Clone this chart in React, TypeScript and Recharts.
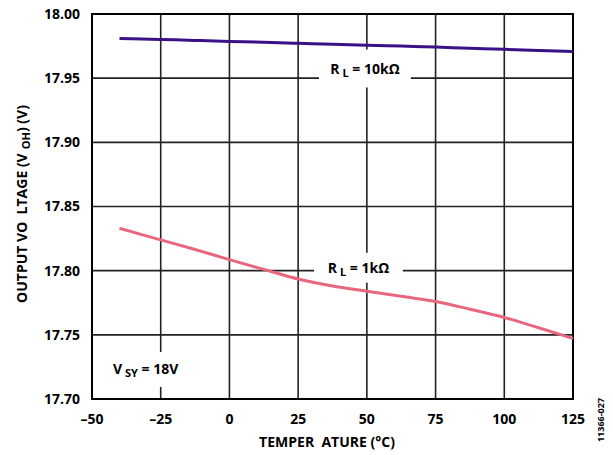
import { LineChart, Line, XAxis, YAxis, CartesianGrid, ReferenceArea } from 'recharts';

const temps = [-40, -25, -12.5, 0, 12.5, 25, 37.5, 50, 62.5, 75, 87.5, 100, 112.5, 125];
const vohRL10k = [17.981, 17.9802, 17.9794, 17.9786, 17.978, 17.9772, 17.9764, 17.9757, 17.975, 17.9742, 17.9733, 17.9725, 17.9716, 17.9707];
const vohRL1k = [17.833, 17.824, 17.8165, 17.8086, 17.801, 17.7935, 17.788, 17.784, 17.78, 17.776, 17.77, 17.7635, 17.7555, 17.7472];
const xTicks = [-50, -25, 0, 25, 50, 75, 100, 125];
const yTicks = [17.7, 17.75, 17.8, 17.85, 17.9, 17.95, 18.0];

const data = temps.map((t, i) => ({ temp: t, rl10k: vohRL10k[i], rl1k: vohRL1k[i] }));

const FONT = '"Open Sans", "DejaVu Sans", sans-serif';

function annoLabel(main: string, sub: string, rest: string) {
    return (props: any) => {
        const vb = props.viewBox || {};
        const cx = vb.x + vb.width / 2;
        const cy = vb.y + vb.height / 2 + 5;
        return (
            <text x={cx} y={cy} textAnchor="middle" fontFamily={FONT} fontWeight="bold" fontSize={14} fill="#000" style={{ whiteSpace: 'pre' }}>
                {main}
                <tspan dx={3} dy={3} fontSize={11}>{sub}</tspan>
                <tspan dy={-3}>{' ' + rest}</tspan>
            </text>
        );
    };
}

const fmtX = (v: number) => (v < 0 ? '\u2013' + Math.abs(v) : String(v));
const fmtY = (v: number) => v.toFixed(2);

export default function App() {
    return (
        <div style={{ position: 'absolute', left: 0, top: 0, width: 613, height: 455, background: '#fff' }}>
            <LineChart width={613} height={455} data={data} margin={{ top: 14, right: 40, bottom: 0, left: 32 }}>
                <CartesianGrid stroke="#222" strokeWidth={1.6} />
                <XAxis
                    dataKey="temp"
                    type="number"
                    domain={[-50, 125]}
                    ticks={xTicks}
                    tickFormatter={fmtX}
                    axisLine={false}
                    tickLine={false}
                    tickSize={0}
                    tickMargin={15}
                    height={56}
                    tick={{ fill: '#000', fontFamily: FONT, fontWeight: 'bold', fontSize: 14 }}
                />
                <YAxis
                    type="number"
                    domain={[17.7, 18.0]}
                    ticks={yTicks}
                    tickFormatter={fmtY}
                    axisLine={false}
                    tickLine={false}
                    tickSize={0}
                    tickMargin={12}
                    width={60}
                    tick={{ fill: '#000', fontFamily: FONT, fontWeight: 'bold', fontSize: 14 }}
                />
                <ReferenceArea x1={32.6} x2={66} y1={17.9427} y2={17.9723} fill="#fff" fillOpacity={1} stroke="none" label={annoLabel('R', 'L', '= 10k\u03a9')} />
                <ReferenceArea x1={30.8} x2={63.1} y1={17.7905} y2={17.814} fill="#fff" fillOpacity={1} stroke="none" label={annoLabel('R', 'L', '= 1k\u03a9')} />
                <ReferenceArea x1={-45.6} x2={-15.4} y1={17.7094} y2={17.7367} fill="#fff" fillOpacity={1} stroke="none" label={annoLabel('V', 'SY', '= 18V')} />
                <Line dataKey="rl10k" type="monotone" stroke="#3a1288" strokeWidth={3} dot={false} isAnimationActive={false} />
                <Line dataKey="rl1k" type="monotone" stroke="#e8677f" strokeWidth={3} dot={false} isAnimationActive={false} />
                <ReferenceArea x1={-50} x2={125} y1={17.7} y2={18.0} fill="none" stroke="#000" strokeWidth={2} />
            </LineChart>
            <svg width={613} height={455} style={{ position: 'absolute', left: 0, top: 0, pointerEvents: 'none' }}>
                <text x={327} y={447} textAnchor="middle" fontFamily={FONT} fontWeight="bold" fontSize={14} fill="#000" style={{ whiteSpace: 'pre' }}>
                    TEMPER  ATURE (°C)
                </text>
                <text transform="translate(27,204) rotate(-90)" textAnchor="middle" fontFamily={FONT} fontWeight="bold" fontSize={14} fill="#000" style={{ whiteSpace: 'pre' }}>
                    OUTPUT VO  LTAGE (V
                    <tspan dx={4} dy={3} fontSize={11}>OH</tspan>
                    <tspan dy={-3}>) (V)</tspan>
                </text>
                <text transform="translate(604,420) rotate(-90)" textAnchor="middle" fontFamily={FONT} fontWeight="bold" fontSize={9} fill="#000">
                    11366-027
                </text>
            </svg>
        </div>
    );
}
